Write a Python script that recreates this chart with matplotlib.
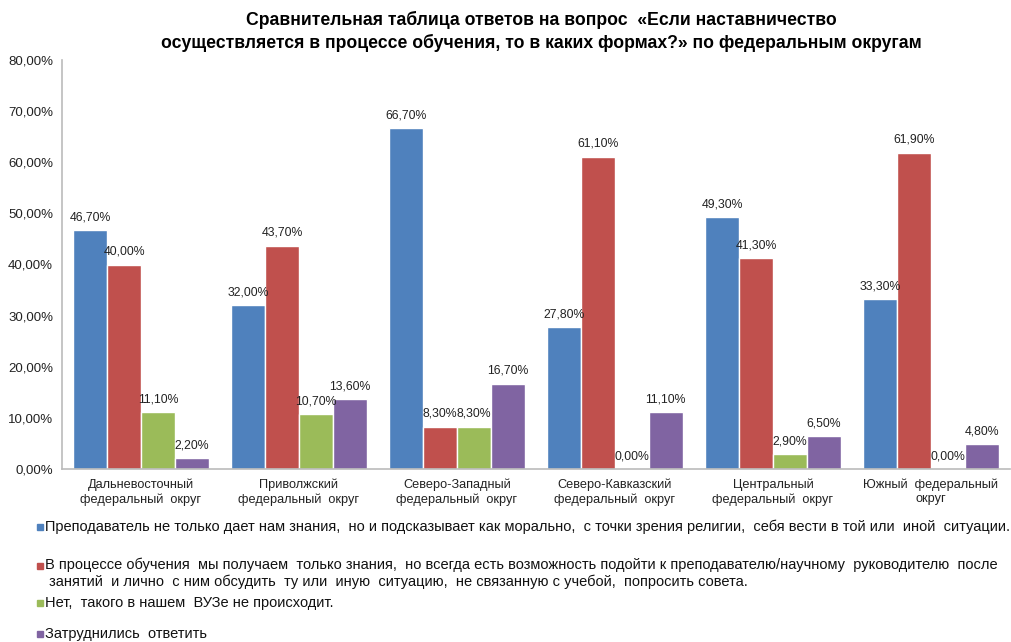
import matplotlib as mpl
mpl.use('Agg')
import matplotlib.pyplot as plt
import numpy as np

# data
districts = ['Дальневосточный\nфедеральный  округ', 'Приволжский\nфедеральный  округ',
             'Северо-Западный\nфедеральный  округ', 'Северо-Кавказский\nфедеральный  округ',
             'Центральный\nфедеральный  округ', 'Южный  федеральный\nокруг']
teacher_moral = [46.7, 32.0, 66.7, 27.8, 49.3, 33.3]
only_knowledge = [40.0, 43.7, 8.3, 61.1, 41.3, 61.9]
not_happening = [11.1, 10.7, 8.3, 0.0, 2.9, 0.0]
hard_to_say = [2.2, 13.6, 16.7, 11.1, 6.5, 4.8]

series_names = [
    'Преподаватель не только дает нам знания,  но и подсказывает как морально,  с точки зрения религии,  себя вести в той или  иной  ситуации.',
    'В процессе обучения  мы получаем  только знания,  но всегда есть возможность подойти к преподавателю/научному  руководителю  после\n'
    ' занятий  и лично  с ним обсудить  ту или  иную  ситуацию,  не связанную с учебой,  попросить совета.',
    'Нет,  такого в нашем  ВУЗе не происходит.',
    'Затруднились  ответить',
]
colors = ['#4F81BD', '#C0504D', '#9BBB59', '#8064A2']
all_series = [teacher_moral, only_knowledge, not_happening, hard_to_say]

plt.rcParams['font.family'] = ['Liberation Sans', 'DejaVu Sans']
narrow = ['Liberation Sans Narrow', 'Liberation Sans', 'DejaVu Sans']

fig = plt.figure(figsize=(10.12, 6.42), dpi=100)
ax = fig.add_axes([62/1012, 1-469/642, 948/1012, 409/642])

x = np.arange(len(districts))
w = 0.214
for i, vals in enumerate(all_series):
    pos = x + (i - 1.5)*w
    ax.bar(pos, vals, width=w, color=colors[i], edgecolor='white', linewidth=1.0)
    for px, v in zip(pos, vals):
        ax.text(px, v + 1.3, ('%.2f%%' % v).replace('.', ','), ha='center', va='bottom',
                fontsize=8.8, color='#222222')

ax.set_xlim(-0.5, 5.5)
ax.set_ylim(0, 80)
ax.set_yticks(np.arange(0, 81, 10))
ax.set_yticklabels([('%.2f%%' % t).replace('.', ',') for t in np.arange(0, 81, 10)],
                   fontsize=9.5, color='#222222')
ax.set_xticks(x)
ax.set_xticklabels(districts, fontsize=9.2, color='#222222', linespacing=1.25)
ax.tick_params(axis='x', length=0, pad=7)
ax.tick_params(axis='y', length=0, pad=6.5)
ax.spines['top'].set_visible(False)
ax.spines['right'].set_visible(False)
for side in ['left', 'bottom']:
    ax.spines[side].set_color('#BBBBBB')
    ax.spines[side].set_linewidth(1.2)

fig.text(541/1012, 1-31/642,
         'Сравнительная таблица ответов на вопрос  «Если наставничество\n'
         'осуществляется в процессе обучения, то в каких формах?» по федеральным округам',
         ha='center', va='center', fontsize=12.7, fontweight='bold', family=narrow,
         linespacing=1.35)

# legend drawn by hand to keep the original spacing
leg_y = [527, 566, 603, 634]
for i, name in enumerate(series_names):
    yy = 1 - leg_y[i]/642
    fig.patches.append(plt.Rectangle((37/1012, yy - 3/642), 6/1012, 6/642,
                                     transform=fig.transFigure, color=colors[i]))
    multi = '\n' in name
    fig.text(45/1012, yy + (8/642 if multi else 0), name, ha='left',
             va='top' if multi else 'center', fontsize=10.5, family=narrow,
             color='#111111', linespacing=1.15)

fig.savefig('out.png', dpi=100)
